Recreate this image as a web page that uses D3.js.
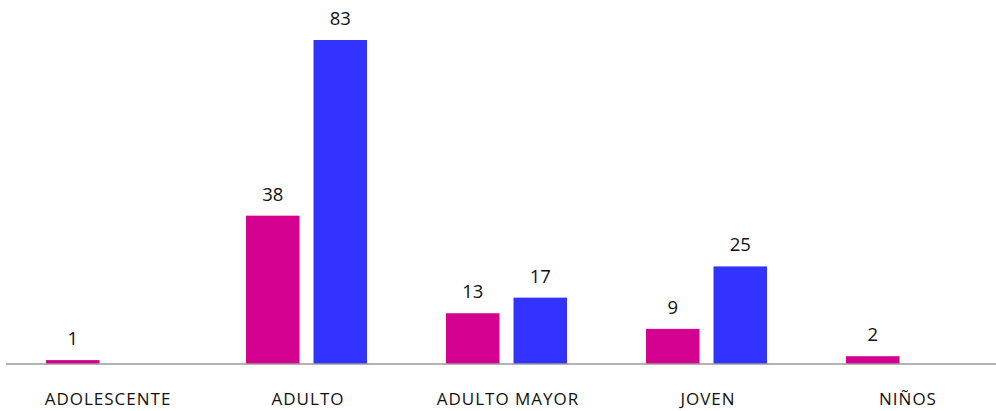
<!DOCTYPE html>
<html>
<head>
<meta charset="utf-8">
<script src="https://cdn.jsdelivr.net/npm/d3@7"></script>
<style>
  body { margin: 0; background: #fff; }
  text { font-family: "Open Sans", sans-serif; }
</style>
</head>
<body>
<script>
// data
let categories = ["ADOLESCENTE", "ADULTO", "ADULTO MAYOR", "JOVEN", "NIÑOS"];
let seriesNames = ["Mujer", "Hombre"];
let serieA = [1, 38, 13, 9, 2];
let serieB = [null, 83, 17, 25, null];
let colors = ["#D4008F", "#3333FF"];

let w = 996,
    h = 411,
    baseY = 364;

let svg = d3.select("body").append("svg")
    .attr("width", w)
    .attr("height", h);

let x0 = d3.scaleBand().domain(categories).range([6.5, 1006.5]);
let x1 = d3.scaleBand().domain(seriesNames)
    .range([39.5, 160.5])
    .paddingInner(14 / 67.5);
let y = d3.scaleLinear().domain([0, 83]).range([baseY, 40]);

let rows = [];
categories.forEach((c, i) => {
  [serieA[i], serieB[i]].forEach((v, j) => {
    if (v != null) rows.push({ cat: c, s: seriesNames[j], v: v, color: colors[j] });
  });
});

svg.selectAll("rect.bar")
  .data(rows)
  .enter()
  .append("rect")
    .attr("class", "bar")
    .attr("x", d => x0(d.cat) + x1(d.s))
    .attr("y", d => y(d.v))
    .attr("width", x1.bandwidth())
    .attr("height", d => baseY - y(d.v))
    .attr("fill", d => d.color);

// value labels above bars
svg.selectAll("text.val")
  .data(rows)
  .enter()
  .append("text")
    .attr("class", "val")
    .text(d => d.v)
    .attr("x", d => x0(d.cat) + x1(d.s) + x1.bandwidth() / 2)
    .attr("y", d => y(d.v) - 15)
    .attr("text-anchor", "middle")
    .attr("font-size", "18.5px")
    .attr("fill", "#111");

// baseline
svg.append("line")
    .attr("x1", 6).attr("x2", w)
    .attr("y1", baseY).attr("y2", baseY)
    .attr("stroke", "#999")
    .attr("stroke-width", 1.5);

// category labels
svg.selectAll("text.cat")
  .data(categories)
  .enter()
  .append("text")
    .attr("class", "cat")
    .text(d => d)
    .attr("x", d => x0(d) + x0.bandwidth() / 2 + 1.5)
    .attr("y", 405)
    .attr("text-anchor", "middle")
    .attr("font-size", "17px")
    .attr("letter-spacing", "1px")
    .attr("fill", "#111");
</script>
</body>
</html>
